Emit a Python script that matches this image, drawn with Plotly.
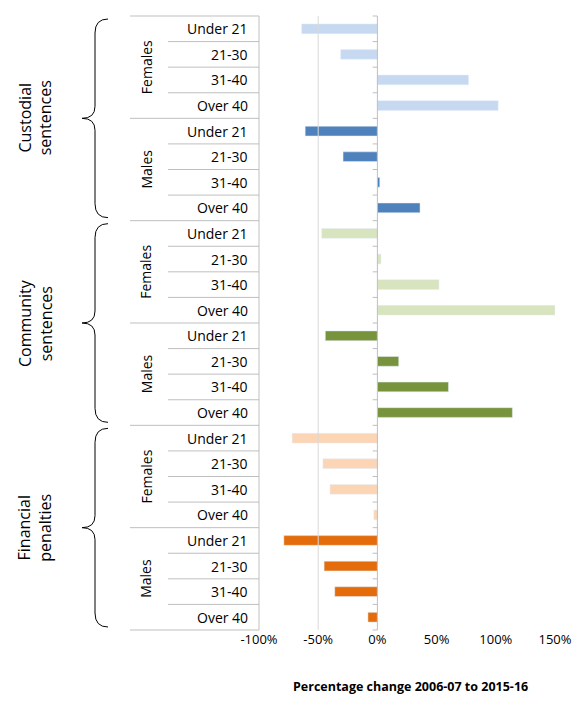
import plotly.graph_objects as go

groups = ["Custodial<br>sentences", "Community<br>sentences", "Financial<br>penalties"]
genders = ["Females", "Males"]
ages = ["Under 21", "21-30", "31-40", "Over 40"]
values = [
    [-64, -31, 77, 102], [-61, -29, 2, 36],
    [-47, 3, 52, 150], [-44, 18, 60, 114],
    [-72, -46, -40, -3], [-79, -45, -36, -8],
]
colors = ["#c6d9f1", "#4f81bd", "#d7e4bd", "#77933c", "#fcd5b5", "#e46c0a"]

L, R, T, B = 259, 555, 18, 632
DX, DY = 8, 10
W, H = R - L, B - T
def px(x): return (x - L) / W
def py(y): return (B - y) / H
rowh = H / 24

fig = go.Figure()
for i, vals in enumerate(values):
    ys = [i * 4 + k for k in range(4)]
    fig.add_trace(go.Bar(x=vals, y=ys, orientation="h", marker_color=colors[i],
                         width=0.38, showlegend=False))

shapes = []
ann = []
font = dict(family="Open Sans", size=13, color="#000")
for r in range(25):
    yy = T + r * rowh
    x0 = 130 if r % 4 == 0 else 168
    shapes.append(dict(type="line", xref="paper", yref="paper", x0=px(x0), x1=px(L),
                       y0=py(yy), y1=py(yy), line=dict(color="#bfbfbf", width=1)))
shapes.append(dict(type="line", xref="paper", yref="paper", x0=px(L), x1=px(L),
                   y0=0, y1=1, line=dict(color="#bfbfbf", width=1)))
for r in range(25):
    yy = T + r * rowh
    shapes.append(dict(type="line", xref="x", yref="paper", x0=-4, x1=0,
                       y0=py(yy), y1=py(yy), line=dict(color="#bfbfbf", width=1)))
shapes.append(dict(type="line", xref="x", yref="paper", x0=-50, x1=-50, y0=0, y1=1,
                   line=dict(color="#d9d9d9", width=1)))
shapes.append(dict(type="line", xref="x", yref="paper", x0=0, x1=0, y0=0, y1=1,
                   line=dict(color="#bfbfbf", width=1)))
for j, a in enumerate(ages * 6):
    yy = T + (j + 0.5) * rowh
    ann.append(dict(text=a, xref="paper", yref="paper", x=px(250), y=py(yy),
                    xanchor="right", yanchor="middle", showarrow=False,
                    font=dict(family="Open Sans", size=14, color="#000")))
for g in range(6):
    yy = T + (g * 4 + 2) * rowh
    ann.append(dict(text=genders[g % 2], xref="paper", yref="paper", x=px(146), y=py(yy),
                    xanchor="center", yanchor="middle",
                    textangle=-90, showarrow=False, font=dict(family="Open Sans", size=14, color="#000")))
for g in range(3):
    y0 = T + g * 8 * rowh + 3
    y1 = T + (g + 1) * 8 * rowh - 3
    ym = (y0 + y1) / 2
    pts = [(108, y0), (95, y0), (95, y0 + 14), (95, ym - 12), (95, ym), (82, ym),
           (95, ym), (95, ym + 12), (95, y1 - 14), (95, y1), (108, y1)]
    P = [(px(a), py(b)) for a, b in pts]
    path = (f"M {P[0][0]},{P[0][1]} Q {P[1][0]},{P[1][1]} {P[2][0]},{P[2][1]} "
            f"L {P[3][0]},{P[3][1]} Q {P[4][0]},{P[4][1]} {P[5][0]},{P[5][1]} "
            f"Q {P[6][0]},{P[6][1]} {P[7][0]},{P[7][1]} L {P[8][0]},{P[8][1]} "
            f"Q {P[9][0]},{P[9][1]} {P[10][0]},{P[10][1]}")
    shapes.append(dict(type="path", xref="paper", yref="paper", path=path,
                       line=dict(color="#000", width=1)))
    ann.append(dict(text=groups[g], xref="paper", yref="paper", x=px(35), y=py(ym),
                    xanchor="center", yanchor="middle",
                    textangle=-90, showarrow=False, font=dict(family="Open Sans", size=16, color="#000")))
ann.append(dict(text="<b>Percentage change 2006-07 to 2015-16</b>", xref="paper", yref="paper",
                x=px(410), y=py(688), xanchor="center", yanchor="middle", showarrow=False,
                font=dict(family="Open Sans", size=12.5, color="#000")))

fig.update_layout(
    width=587, height=707,
    margin=dict(l=L - DX, r=587 - R + DX, t=T - DY, b=707 - B + DY),
    plot_bgcolor="white", paper_bgcolor="white", barmode="overlay",
    shapes=shapes, annotations=ann,
    xaxis=dict(range=[-100, 150], tickvals=[-100, -50, 0, 50, 100, 150],
               ticktext=["-100%", "-50%", "0%", "50%", "100%", "150%"],
               showgrid=False, zeroline=False, tickfont=font, ticks=""),
    yaxis=dict(range=[23.5, -0.5], showticklabels=False, showgrid=False, zeroline=False),
)
fig.write_html("out.html")
